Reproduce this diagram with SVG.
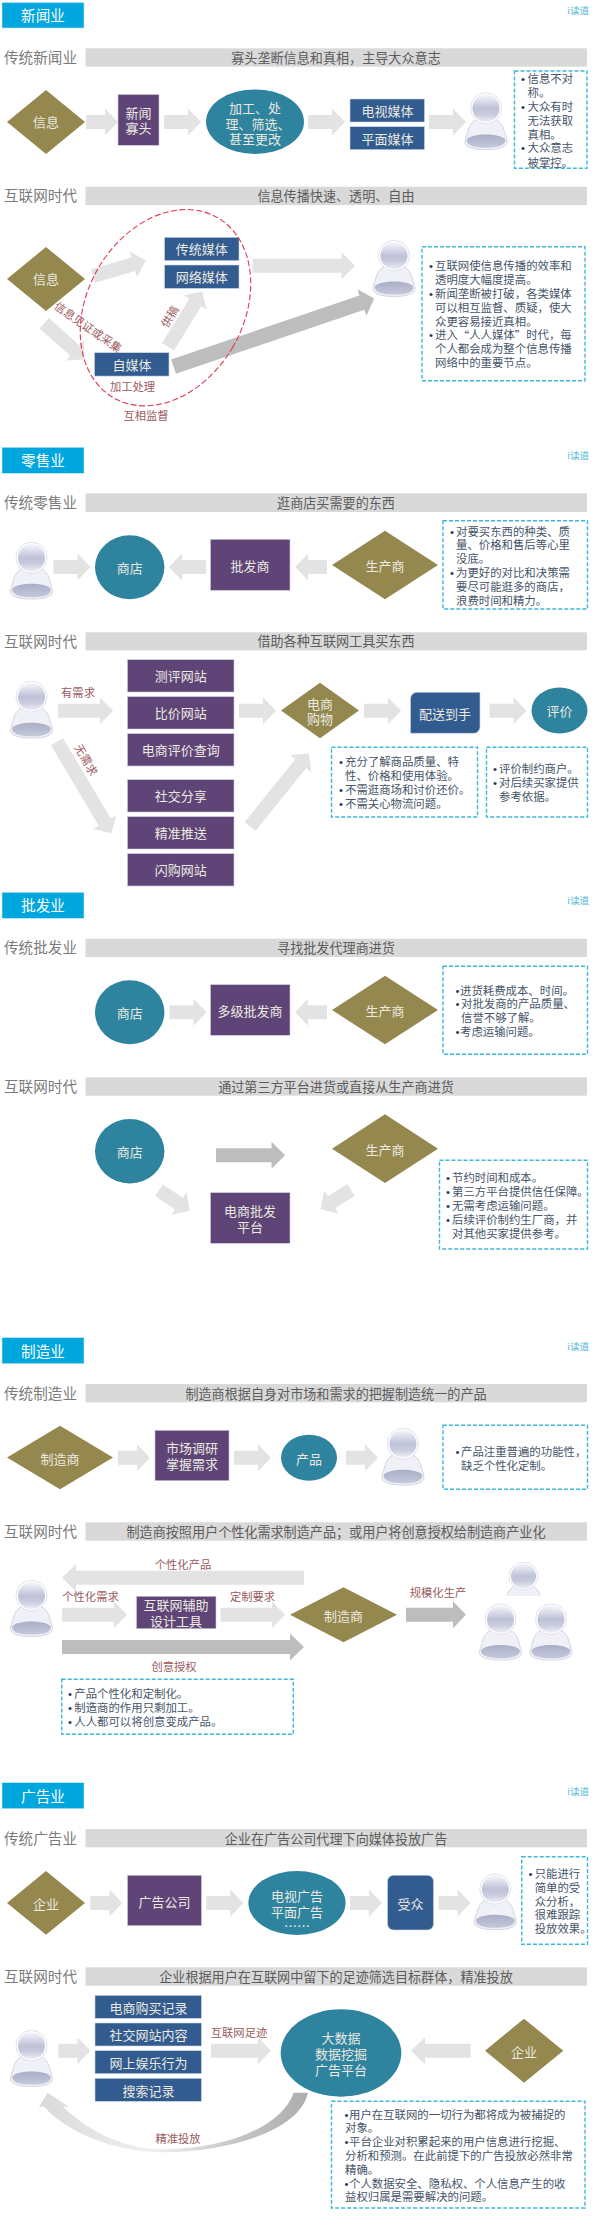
<svg xmlns="http://www.w3.org/2000/svg" width="595" height="2228" viewBox="0 0 595 2228">
<style>
text{font-family:"Liberation Sans","Noto Sans CJK SC",sans-serif;dominant-baseline:central}
.cjk{font-family:"Noto Sans CJK SC",sans-serif}
.ttl{fill:#00a6de;stroke:#bfe6f5;stroke-width:.6}
.ttlt{font-size:14.6px;fill:#fff;text-anchor:middle}
.brand{font-family:"Liberation Serif","Noto Sans CJK SC",serif;font-size:9.5px;fill:#4fb8d6;text-anchor:end}
.bar{fill:#d9d9d9}
.hl{font-size:14.6px;fill:#7b7b7b}
.ht{font-size:13.1px;fill:#5c5c5c;text-anchor:middle}
.g{fill:#94884f}
.p{fill:#5f4577;stroke:#cfc8d8;stroke-width:.6}
.t{fill:#2e839e}
.b{fill:#325c90;stroke:#cdd7e4;stroke-width:.6}
.n{font-size:13px;fill:#ebe9e0;text-anchor:middle}
.a{fill:#e3e3e3}
.d{fill:#bdbdbd}
.note{fill:#fff;stroke:#3fb8d6;stroke-width:1.4;stroke-dasharray:4 2}
.x{font-size:11.4px;fill:#465569}
.bu{fill:#1f3a66}
.l{font-size:11.3px;fill:#9b5a5e;text-anchor:middle}
</style>
<defs>
<linearGradient id="ph" x1="0" y1="0" x2="0" y2="1"><stop offset="0" stop-color="#f6f7fb"/><stop offset=".5" stop-color="#bfc2d8"/><stop offset=".72" stop-color="#c9cbde"/><stop offset="1" stop-color="#eeeff5"/></linearGradient>
<linearGradient id="pb" x1="0" y1="0" x2="0" y2="1"><stop offset="0" stop-color="#a9aec9"/><stop offset="1" stop-color="#c6c9db"/></linearGradient>
<linearGradient id="curve" gradientUnits="userSpaceOnUse" x1="40" y1="0" x2="308" y2="0"><stop offset="0" stop-color="#dadada"/><stop offset=".42" stop-color="#f0f0f0"/><stop offset=".75" stop-color="#c4c4c4"/><stop offset="1" stop-color="#adadad"/></linearGradient>
<clipPath id="clipTop"><rect x="495" y="1555" width="60" height="41"/></clipPath>
<symbol id="person" viewBox="0 0 44 58" preserveAspectRatio="none">
<path d="M22,25C12,25 6,30 4,38C2.500,44 1,47 1,50C1,54 8,57.500 22,57.500C36,57.500 43,54 43,50C43,47 41.500,44 40,38C38,30 32,25 22,25Z" fill="#f0f1f6" stroke="#c9ccdc" stroke-width=".8"/>
<path d="M2.800,47C8,40.500 36,40.500 41.200,47C42.500,53 34,55.500 22,55.500C10,55.500 1.500,53 2.800,47Z" fill="url(#pb)"/>
<ellipse cx="22" cy="16" rx="15.500" ry="15.500" fill="#fff" stroke="#d2d4e2" stroke-width=".7"/>
<ellipse cx="22" cy="16" rx="13.500" ry="13.800" fill="url(#ph)"/>
</symbol>
<path id="a37" d="M0-7H24V-13.500L37,0L24,13.500V7H0Z"/>
<path id="a32" d="M0-7H19V-13.500L32,0L19,13.500V7H0Z"/>
</defs>
<rect width="595" height="2228" fill="#fff"/>

<g id="connectors">
<use href="#a32" class="a" x="86" y="122"/>
<use href="#a37" class="a" x="164" y="122"/>
<use href="#a37" class="a" x="308" y="122"/>
<use href="#a37" class="a" x="429" y="122"/>
<path class="a" transform="translate(93,276) rotate(-16.3)" d="M0-7H42V-13.500L55,0L42,13.500V7H0Z"/>
<path class="a" transform="translate(44.200,323.300) rotate(41.600)" d="M0-7H41V-13.500L54,0L41,13.500V7H0Z"/>
<path class="a" transform="translate(168,346.700) rotate(-58.300)" d="M0-7H52V-13.500L65,0L52,13.500V7H0Z"/>
<path class="a" d="M252.500,258.700H341.600V252.200L355,265.700L341.600,279.200V272.700H252.500Z"/>
<path class="d" transform="translate(173.500,366.700) rotate(-18.800)" d="M0-7.500H199V-14L212,0L199,14V7.500H0Z"/>
<use href="#a37" class="a" x="53.500" y="567"/>
<use href="#a37" class="a" transform="translate(206,567) rotate(180)"/>
<use href="#a32" class="a" transform="translate(327,567) rotate(180)"/>
<path class="a" d="M58,703.700H100V697.200L113,710.700L100,724.200V717.700H58Z"/>
<path class="a" transform="translate(57,741.700) rotate(59.300)" d="M0-7H93.500V-13.500L106.500,0L93.500,13.500V7H0Z"/>
<use href="#a37" class="a" x="239" y="710.700"/>
<use href="#a37" class="a" x="364" y="710.700"/>
<use href="#a37" class="a" x="489.500" y="710.700"/>
<path class="a" transform="translate(250,826.700) rotate(-51.200)" d="M0-7H81V-13.500L94,0L81,13.500V7H0Z"/>
<use href="#a37" class="a" x="169.500" y="1012.300"/>
<use href="#a32" class="a" transform="translate(327,1012.300) rotate(180)"/>
<path class="d" d="M216,1148.300H271.500V1141.800L285,1155.300L271.500,1168.800V1162.300H216Z"/>
<path class="a" transform="translate(159,1190.300) rotate(33.700)" d="M0-7H24V-13.500L37,0L24,13.500V7H0Z"/>
<path class="a" transform="translate(351,1190) rotate(148)" d="M0-7H23V-13.500L36,0L23,13.500V7H0Z"/>
<use href="#a32" class="a" x="118" y="1457.700"/>
<use href="#a37" class="a" x="234" y="1457.700"/>
<use href="#a32" class="a" x="346" y="1457.700"/>
<path class="a" d="M304,1570.700H76V1564.200L62,1577.700L76,1591.200V1584.700H304Z"/>
<path class="a" d="M62,1607.700H113.700V1601.200L127,1614.700L113.700,1628.200V1621.700H62Z"/>
<path class="a" d="M220.500,1607.700H272V1601.200L285,1614.700L272,1628.200V1621.700H220.500Z"/>
<path class="d" d="M62,1640H290V1633.500L304,1647L290,1660.500V1654H62Z"/>
<path class="d" d="M406,1607.700H453V1601.200L466,1614.700L453,1628.200V1621.700H406Z"/>
<use href="#a32" class="a" x="90.400" y="1903"/>
<use href="#a37" class="a" x="206.300" y="1903"/>
<use href="#a32" class="a" x="350" y="1903"/>
<use href="#a32" class="a" x="438.600" y="1903"/>
<use href="#a32" class="a" x="58.400" y="2050.700"/>
<path class="a" d="M211,2043.700H257.800V2037.200L271,2050.700L257.800,2064.200V2057.700H211Z"/>
<path class="a" d="M470.600,2043.700H425V2037.200L411,2050.700L425,2064.200V2057.700H470.600Z"/>
<path fill="url(#curve)" d="M308,2092.700C300,2130 230,2152 164,2152.300C110,2152 65,2130 44,2106.700L39,2106.700L47.700,2092.700L68.600,2106.700L63,2106.700C85,2128 120,2149 164,2149.300C220,2149 280,2130 293.700,2092.700Z"/>
</g>

<g id="section-news">
<g id="title-news"><rect class="ttl" x="2" y="2.500" width="82" height="25.500"/><text class="ttlt" x="43" y="15.500">新闻业</text><text class="brand" x="589" y="11">i读道</text></g>
<g id="header-news-old"><text class="hl" x="4" y="58">传统新闻业</text><rect class="bar" x="85.500" y="48.300" width="501.500" height="18.400"/><text class="ht" x="336" y="58">寡头垄断信息和真相，主导大众意志</text></g>
<g id="n-info1"><path class="g" d="M46,90L85,122L46,154L7,122Z"/><text class="n" x="46" y="122">信息</text></g>
<g id="n-oligarch"><rect class="p" x="118" y="94.500" width="41" height="50.800"/><text class="n" x="138.500" y="113">新闻</text><text class="n" x="138.500" y="128.500">寡头</text></g>
<g id="n-process"><ellipse class="t" cx="255" cy="121.700" rx="49" ry="32.300"/><text class="n" x="255" y="108.300">加工、处</text><text class="n" x="258" y="124">理、筛选、</text><text class="n" x="255" y="139.700">甚至更改</text></g>
<g id="n-tv"><rect class="b" x="350" y="99" width="74.500" height="23"/><text class="n" x="387.500" y="111">电视媒体</text></g>
<g id="n-print"><rect class="b" x="350" y="126.700" width="74.500" height="23"/><text class="n" x="387.500" y="139">平面媒体</text></g>
<g id="n-user1"><use href="#person" x="464" y="92.300" width="44" height="58"/></g>
<g id="note-news1"><rect class="note" x="514.500" y="71" width="72.500" height="97.300"/>
<text class="x" y="79.300"><tspan class="bu" x="521">•</tspan><tspan x="527.500">信息不对</tspan></text>
<text class="x" x="527.500" y="93">称。</text>
<text class="x" y="107.300"><tspan class="bu" x="521">•</tspan><tspan x="527.500">大众有时</tspan></text>
<text class="x" x="527.500" y="121">无法获取</text>
<text class="x" x="527.500" y="134.700">真相。</text>
<text class="x" y="148.300"><tspan class="bu" x="521">•</tspan><tspan x="527.500">大众意志</tspan></text>
<text class="x" x="527.500" y="162.700">被掌控。</text></g>
<g id="header-news-new"><text class="hl" x="4" y="196">互联网时代</text><rect class="bar" x="85.500" y="186.700" width="501.500" height="18.400"/><text class="ht" x="336" y="196">信息传播快速、透明、自由</text></g>
<g id="n-info2"><path class="g" d="M46,247L85,279L46,311L7,279Z"/><text class="n" x="46" y="279">信息</text></g>
<g id="n-tradmedia"><rect class="b" x="164.500" y="237.300" width="74.500" height="23.400"/><text class="n" x="201.700" y="249.500">传统媒体</text></g>
<g id="n-netmedia"><rect class="b" x="164.500" y="265" width="74.500" height="23.400"/><text class="n" x="201.700" y="277.500">网络媒体</text></g>
<g id="n-wemedia"><rect class="b" x="94.500" y="352.700" width="74.500" height="23.400"/><text class="n" x="132" y="365">自媒体</text></g>
<ellipse id="n-ring" cx="165.500" cy="307.700" rx="78" ry="104" transform="rotate(30 165.500 307.700)" fill="none" stroke="#e0384f" stroke-width="1.100" stroke-dasharray="6 2.500"/>
<text class="l" x="88" y="327.300" transform="rotate(34.700 88 327.300)">信息见证或采集</text>
<text class="l" x="170" y="316.700" transform="rotate(-58 170 316.700)">供稿</text>
<text class="l" x="132.500" y="386.700">加工处理</text>
<text class="l" x="146" y="416">互相监督</text>
<g id="n-user2"><use href="#person" x="372" y="240" width="44" height="57"/></g>
<g id="note-news2"><rect class="note" x="422" y="246.700" width="163" height="134"/>
<text class="x" y="266.300"><tspan class="bu" x="429">•</tspan><tspan x="435">互联网使信息传播的效率和</tspan></text>
<text class="x" x="435" y="280">透明度大幅度提高。</text>
<text class="x" y="294"><tspan class="bu" x="429">•</tspan><tspan x="435">新闻垄断被打破，各类媒体</tspan></text>
<text class="x" x="435" y="308.300">可以相互监督、质疑，使大</text>
<text class="x" x="435" y="321.700">众更容易接近真相。</text>
<text class="x" y="335.300"><tspan class="bu" x="429">•</tspan><tspan x="435">进入</tspan><tspan class="cjk">“</tspan>人人媒体<tspan class="cjk">”</tspan>时代，每</text>
<text class="x" x="435" y="349">个人都会成为整个信息传播</text>
<text class="x" x="435" y="363.300">网络中的重要节点。</text></g>
</g>

<g id="section-retail">
<g id="title-retail"><rect class="ttl" x="2" y="447.300" width="82" height="26"/><text class="ttlt" x="43" y="461">零售业</text><text class="brand" x="589" y="456">i读道</text></g>
<g id="header-retail-old"><text class="hl" x="4" y="503">传统零售业</text><rect class="bar" x="85.500" y="493.300" width="501.500" height="18.700"/><text class="ht" x="336" y="503">逛商店买需要的东西</text></g>
<g id="n-user3"><use href="#person" x="9.500" y="541.700" width="44" height="58"/></g>
<g id="n-shop1"><ellipse class="t" cx="129.700" cy="567.300" rx="34.700" ry="32"/><text class="n" x="129.700" y="568">商店</text></g>
<g id="n-whole1"><rect class="p" x="210.500" y="539.300" width="79.500" height="51"/><text class="n" x="250" y="566">批发商</text></g>
<g id="n-maker1"><path class="g" d="M385,530.700L438,565L385,599.300L332,565Z"/><text class="n" x="385" y="566">生产商</text></g>
<g id="note-retail1"><rect class="note" x="443" y="520.700" width="144.500" height="88.300"/>
<text class="x" y="531.700"><tspan class="bu" x="450">•</tspan><tspan x="456">对要买东西的种类、质</tspan></text>
<text class="x" x="456" y="545.300">量、价格和售后等心里</text>
<text class="x" x="456" y="559.300">没底。</text>
<text class="x" y="573.300"><tspan class="bu" x="450">•</tspan><tspan x="456">为更好的对比和决策需</tspan></text>
<text class="x" x="456" y="587">要尽可能逛多的商店，</text>
<text class="x" x="456" y="601">浪费时间和精力。</text></g>
<g id="header-retail-new"><text class="hl" x="4" y="641.500">互联网时代</text><rect class="bar" x="85.500" y="632.300" width="501.500" height="18"/><text class="ht" x="336" y="641.500">借助各种互联网工具买东西</text></g>
<g id="n-user4"><use href="#person" x="9.500" y="680.700" width="44" height="58"/></g>
<text class="l" x="78" y="693">有需求</text>
<text class="l" x="86" y="760" transform="rotate(60 86 760)">无需求</text>
<g id="n-s1"><rect class="p" x="127.500" y="659.700" width="106.500" height="32.300"/><text class="n" x="180.700" y="676">测评网站</text></g>
<g id="n-s2"><rect class="p" x="127.500" y="696.700" width="106.500" height="32.300"/><text class="n" x="180.700" y="713">比价网站</text></g>
<g id="n-s3"><rect class="p" x="127.500" y="733.700" width="106.500" height="32.300"/><text class="n" x="180.700" y="750">电商评价查询</text></g>
<g id="n-s4"><rect class="p" x="127.500" y="779.700" width="106.500" height="32.300"/><text class="n" x="180.700" y="796">社交分享</text></g>
<g id="n-s5"><rect class="p" x="127.500" y="816.700" width="106.500" height="32.300"/><text class="n" x="180.700" y="833">精准推送</text></g>
<g id="n-s6"><rect class="p" x="127.500" y="853.700" width="106.500" height="32.300"/><text class="n" x="180.700" y="870">闪购网站</text></g>
<g id="n-ecom"><path class="g" d="M320,682.700L359,710.500L320,738.300L281,710.500Z"/><text class="n" x="320" y="704">电商</text><text class="n" x="320" y="719.300">购物</text></g>
<g id="n-deliver"><path class="b" d="M417,692.300H480V727A6.300,6.300 0 0 1 473.700,733.300H410.500V698.800A6.500,6.500 0 0 1 417,692.300Z"/><text class="n" x="445" y="714">配送到手</text></g>
<g id="n-review"><ellipse class="t" cx="559.500" cy="710.500" rx="28" ry="23"/><text class="n" x="559.500" y="711">评价</text></g>
<g id="note-retail2"><rect class="note" x="331.500" y="747.300" width="146" height="69.700"/>
<text class="x" y="762.300"><tspan class="bu" x="339">•</tspan><tspan x="345">充分了解商品质量、特</tspan></text>
<text class="x" x="345" y="776">性、价格和使用体验。</text>
<text class="x" y="790"><tspan class="bu" x="339">•</tspan><tspan x="345">不需逛商场和讨价还价。</tspan></text>
<text class="x" y="804"><tspan class="bu" x="339">•</tspan><tspan x="345">不需关心物流问题。</tspan></text></g>
<g id="note-retail3"><rect class="note" x="486.500" y="747.300" width="101" height="69.700"/>
<text class="x" y="769"><tspan class="bu" x="493">•</tspan><tspan x="499">评价制约商户。</tspan></text>
<text class="x" y="782.700"><tspan class="bu" x="493">•</tspan><tspan x="499">对后续买家提供</tspan></text>
<text class="x" x="499" y="797">参考依据。</text></g>
</g>

<g id="section-wholesale">
<g id="title-wholesale"><rect class="ttl" x="2" y="892.300" width="82" height="26"/><text class="ttlt" x="43" y="906">批发业</text><text class="brand" x="589" y="901">i读道</text></g>
<g id="header-wholesale-old"><text class="hl" x="4" y="948">传统批发业</text><rect class="bar" x="85.500" y="938.700" width="501.500" height="18.300"/><text class="ht" x="336" y="948">寻找批发代理商进货</text></g>
<g id="n-shop2"><ellipse class="t" cx="129.700" cy="1012.300" rx="34.700" ry="32"/><text class="n" x="129.700" y="1013">商店</text></g>
<g id="n-whole2"><rect class="p" x="210.500" y="984.700" width="79.500" height="50.600"/><text class="n" x="250" y="1011">多级批发商</text></g>
<g id="n-maker2"><path class="g" d="M385,975.700L438,1010L385,1044.300L332,1010Z"/><text class="n" x="385" y="1011">生产商</text></g>
<g id="note-wholesale1"><rect class="note" x="443" y="966.300" width="144.500" height="88"/>
<text class="x" y="990.700"><tspan class="bu" x="455.500">•</tspan><tspan x="460">进货耗费成本、时间。</tspan></text>
<text class="x" y="1004.300"><tspan class="bu" x="455.500">•</tspan><tspan x="461">对批发商的产品质量、</tspan></text>
<text class="x" x="461" y="1018.300">信誉不够了解。</text>
<text class="x" y="1032"><tspan class="bu" x="455.500">•</tspan><tspan x="460">考虑运输问题。</tspan></text></g>
<g id="header-wholesale-new"><text class="hl" x="4" y="1087">互联网时代</text><rect class="bar" x="85.500" y="1077.300" width="501.500" height="18.400"/><text class="ht" x="336" y="1087">通过第三方平台进货或直接从生产商进货</text></g>
<g id="n-shop3"><ellipse class="t" cx="129.700" cy="1151.200" rx="34.700" ry="32.200"/><text class="n" x="129.700" y="1152">商店</text></g>
<g id="n-maker3"><path class="g" d="M385,1114.300L438,1148.700L385,1183L332,1148.700Z"/><text class="n" x="385" y="1150">生产商</text></g>
<g id="n-platform1"><rect class="p" x="210.500" y="1192.700" width="79.500" height="50.600"/><text class="n" x="250" y="1211.700">电商批发</text><text class="n" x="250" y="1227.700">平台</text></g>
<g id="note-wholesale2"><rect class="note" x="439.500" y="1160.300" width="148" height="88.700"/>
<text class="x" y="1178.300"><tspan class="bu" x="446">•</tspan><tspan x="452">节约时间和成本。</tspan></text>
<text class="x" y="1192"><tspan class="bu" x="446">•</tspan><tspan x="452">第三方平台提供信任保障。</tspan></text>
<text class="x" y="1206"><tspan class="bu" x="446">•</tspan><tspan x="452">无需考虑运输问题。</tspan></text>
<text class="x" y="1219.700"><tspan class="bu" x="446">•</tspan><tspan x="452">后续评价制约生厂商，并</tspan></text>
<text class="x" x="452" y="1234">对其他买家提供参考。</text></g>
</g>

<g id="section-manufacturing">
<g id="title-manu"><rect class="ttl" x="2" y="1337.700" width="82" height="26"/><text class="ttlt" x="43" y="1351.500">制造业</text><text class="brand" x="589" y="1346.700">i读道</text></g>
<g id="header-manu-old"><text class="hl" x="4" y="1394">传统制造业</text><rect class="bar" x="85.500" y="1384" width="501.500" height="18.300"/><text class="ht" x="336" y="1394">制造商根据自身对市场和需求的把握制造统一的产品</text></g>
<g id="n-manu1"><path class="g" d="M60,1425.700L113,1457.500L60,1489.300L7,1457.500Z"/><text class="n" x="60" y="1459">制造商</text></g>
<g id="n-survey"><rect class="p" x="155" y="1430.300" width="74" height="50.400"/><text class="n" x="192" y="1448.300">市场调研</text><text class="n" x="192" y="1464.300">掌握需求</text></g>
<g id="n-product"><ellipse class="t" cx="309" cy="1457.800" rx="28" ry="23"/><text class="n" x="309" y="1459">产品</text></g>
<g id="n-user5"><use href="#person" x="381" y="1427.700" width="44" height="58"/></g>
<g id="note-manu1"><rect class="note" x="443" y="1425.300" width="144.500" height="64"/>
<text class="x" y="1452"><tspan class="bu" x="455.500">•</tspan><tspan x="461">产品注重普遍的功能性，</tspan></text>
<text class="x" x="461" y="1466">缺乏个性化定制。</text></g>
<g id="header-manu-new"><text class="hl" x="4" y="1532">互联网时代</text><rect class="bar" x="85.500" y="1522.300" width="501.500" height="18.400"/><text class="ht" x="336" y="1532">制造商按照用户个性化需求制造产品；或用户将创意授权给制造商产业化</text></g>
<text class="l" x="183" y="1565">个性化产品</text>
<g id="n-user6"><use href="#person" x="9.500" y="1580" width="44" height="57"/></g>
<text class="l" x="90.500" y="1597">个性化需求</text>
<g id="n-tool"><rect class="p" x="136.500" y="1596.300" width="79.500" height="32.400"/><text class="n" x="176" y="1605.700">互联网辅助</text><text class="n" x="176" y="1621.700">设计工具</text></g>
<text class="l" x="252.500" y="1597">定制要求</text>
<g id="n-manu2"><path class="g" d="M343.500,1587.300L397,1614.800L343.500,1642.300L290,1614.800Z"/><text class="n" x="343.500" y="1616">制造商</text></g>
<text class="l" x="174" y="1666.700">创意授权</text>
<text class="l" x="438" y="1592.700">规模化生产</text>
<g id="n-users"><g clip-path="url(#clipTop)"><use href="#person" x="503" y="1561.700" width="41" height="52"/></g><use href="#person" x="478.500" y="1603.300" width="44" height="57.500"/><use href="#person" x="529" y="1603.300" width="44" height="57.500"/></g>
<g id="note-manu2"><rect class="note" x="61.700" y="1679.300" width="231.600" height="55"/>
<text class="x" y="1694"><tspan class="bu" x="68">•</tspan><tspan x="74.300">产品个性化和定制化。</tspan></text>
<text class="x" y="1708.300"><tspan class="bu" x="68">•</tspan><tspan x="74.300">制造商的作用只剩加工。</tspan></text>
<text class="x" y="1722"><tspan class="bu" x="68">•</tspan><tspan x="74.300">人人都可以将创意变成产品。</tspan></text></g>
</g>

<g id="section-ads">
<g id="title-ads"><rect class="ttl" x="2" y="1782.700" width="82" height="26"/><text class="ttlt" x="43" y="1796.700">广告业</text><text class="brand" x="589" y="1791.700">i读道</text></g>
<g id="header-ads-old"><text class="hl" x="4" y="1839">传统广告业</text><rect class="bar" x="85.500" y="1829" width="501.500" height="18.300"/><text class="ht" x="336" y="1839">企业在广告公司代理下向媒体投放广告</text></g>
<g id="n-firm1"><path class="g" d="M46,1871L85,1903L46,1934.700L7,1903Z"/><text class="n" x="46" y="1904">企业</text></g>
<g id="n-agency"><rect class="p" x="127.500" y="1875.300" width="73.900" height="50.400"/><text class="n" x="164.500" y="1902">广告公司</text></g>
<g id="n-ads"><ellipse class="t" cx="297" cy="1903" rx="48.600" ry="32"/><text class="n" x="297" y="1896">电视广告</text><text class="n" x="297" y="1912">平面广告</text><text class="n cjk" x="297" y="1925">……</text></g>
<g id="n-audience"><rect class="b" x="387.500" y="1875.300" width="46" height="54.700" rx="6"/><text class="n" x="410.500" y="1904">受众</text></g>
<g id="n-user7"><use href="#person" x="473.300" y="1873.300" width="44" height="57"/></g>
<g id="note-ads1"><rect class="note" x="521.700" y="1856.700" width="65.800" height="87.600"/>
<text class="x" y="1874"><tspan class="bu" x="528.500">•</tspan><tspan x="534.700">只能进行</tspan></text>
<text class="x" x="534.700" y="1887.700">简单的受</text>
<text class="x" x="534.700" y="1901.700">众分析，</text>
<text class="x" x="534.700" y="1915.300">很难跟踪</text>
<text class="x" x="534.700" y="1929.300">投放效果。</text></g>
<g id="header-ads-new"><text class="hl" x="4" y="1977">互联网时代</text><rect class="bar" x="85.500" y="1967.300" width="501.500" height="18.400"/><text class="ht" x="336" y="1977">企业根据用户在互联网中留下的足迹筛选目标群体，精准投放</text></g>
<g id="n-user8"><use href="#person" x="9.500" y="2030" width="44" height="57"/></g>
<g id="n-r1"><rect class="b" x="95" y="1995.300" width="106.400" height="23"/><text class="n" x="148.500" y="2008">电商购买记录</text></g>
<g id="n-r2"><rect class="b" x="95" y="2023" width="106.400" height="23"/><text class="n" x="148.500" y="2035.500">社交网站内容</text></g>
<g id="n-r3"><rect class="b" x="95" y="2050.700" width="106.400" height="23"/><text class="n" x="148.500" y="2063.500">网上娱乐行为</text></g>
<g id="n-r4"><rect class="b" x="95" y="2078.300" width="106.400" height="23"/><text class="n" x="148.500" y="2091">搜索记录</text></g>
<text class="l" x="239" y="2033.300">互联网足迹</text>
<g id="n-bigdata"><ellipse class="t" cx="341" cy="2053" rx="60.300" ry="43.700"/><text class="n" x="341" y="2038.700">大数据</text><text class="n" x="341" y="2054.700">数据挖掘</text><text class="n" x="341" y="2070.300">广告平台</text></g>
<g id="n-firm2"><path class="g" d="M524,2018.700L563.300,2050.700L524,2082.700L485,2050.700Z"/><text class="n" x="524" y="2052">企业</text></g>
<text class="l" x="178" y="2139.300">精准投放</text>
<g id="note-ads2"><rect class="note" x="331.500" y="2101.300" width="253.500" height="106.700"/>
<text class="x" y="2114.700"><tspan class="bu" x="344.500">•</tspan><tspan x="349">用户在互联网的一切行为都将成为被捕捉的</tspan></text>
<text class="x" x="345" y="2128.300">对象。</text>
<text class="x" y="2142.300"><tspan class="bu" x="344.500">•</tspan><tspan x="349">平台企业对积累起来的用户信息进行挖掘、</tspan></text>
<text class="x" x="345" y="2156">分析和预测。在此前提下的广告投放必然非常</text>
<text class="x" x="345" y="2170">精确。</text>
<text class="x" y="2183.700"><tspan class="bu" x="344.500">•</tspan><tspan x="349">个人数据安全、隐私权、个人信息产生的收</tspan></text>
<text class="x" x="345" y="2197.300">益权归属是需要解决的问题。</text></g>
</g>
</svg>
